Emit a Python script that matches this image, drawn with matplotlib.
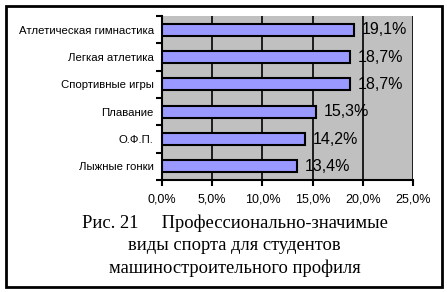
import matplotlib
matplotlib.use("Agg")
import matplotlib.pyplot as plt
from matplotlib.patches import Rectangle
from matplotlib.ticker import MultipleLocator, FuncFormatter

categories = ["Лыжные гонки", "О.Ф.П.", "Плавание", "Спортивные игры",
              "Легкая атлетика", "Атлетическая гимнастика"]
values = [13.4, 14.2, 15.3, 18.7, 18.7, 19.1]
caption = ["Рис. 21     Профессионально-значимые",
           "виды спорта для студентов",
           "машиностроительного профиля"]

W, H = 447, 292
fig = plt.figure(figsize=(W / 100, H / 100), dpi=100)
fig.patch.set_facecolor("white")

# outer frame
fig.add_artist(Rectangle((5.5 / W, 5.5 / H), 436 / W, 281 / H, transform=fig.transFigure,
                         fill=False, edgecolor="black", linewidth=2))

ax = fig.add_axes([162 / W, 1 - 180 / H, (413 - 162) / W, (180 - 16) / H])
ax.set_facecolor("#c0c0c0")

y = range(len(categories))
ax.barh(y, values, height=0.45, color="#9999ff", edgecolor="black", linewidth=1.5, zorder=3)
ax.set_xlim(0, 25)
ax.set_ylim(-0.5, len(categories) - 0.5)
ax.xaxis.set_major_locator(MultipleLocator(5))
ax.xaxis.set_major_formatter(FuncFormatter(lambda v, p: f"{v:.1f}%".replace(".", ",")))
ax.grid(axis="x", color="black", linewidth=1.2, zorder=1)

ax.set_yticks([i - 0.5 for i in range(len(categories) + 1)])
ax.set_yticklabels([])
ax.set_yticks(list(y), minor=True)
ax.set_yticklabels(categories, minor=True, fontsize=8.2, family="Liberation Sans")
ax.tick_params(axis="y", which="minor", length=0, pad=6)
ax.tick_params(axis="y", which="major", length=4, width=1.5, direction="out")
ax.tick_params(axis="x", length=4, width=1.5, direction="out", labelsize=9, pad=6)
for lab in ax.get_xticklabels():
    lab.set_family("Liberation Sans")

for s in ("top", "right"):
    ax.spines[s].set_visible(False)
for s in ("left", "bottom"):
    ax.spines[s].set_linewidth(1.5)

for yi, v in zip(y, values):
    ax.text(v + 0.8, yi, f"{v:.1f}%".replace(".", ","), va="center", ha="left",
            fontsize=11.5, family="Liberation Sans", zorder=4)

for i, yy in enumerate([223, 245, 268]):
    fig.text(0.5 + 11 / W, 1 - yy / H, caption[i], ha="center", va="center",
             fontsize=13.3, family="Liberation Serif")

fig.savefig("out.png", dpi=100)
